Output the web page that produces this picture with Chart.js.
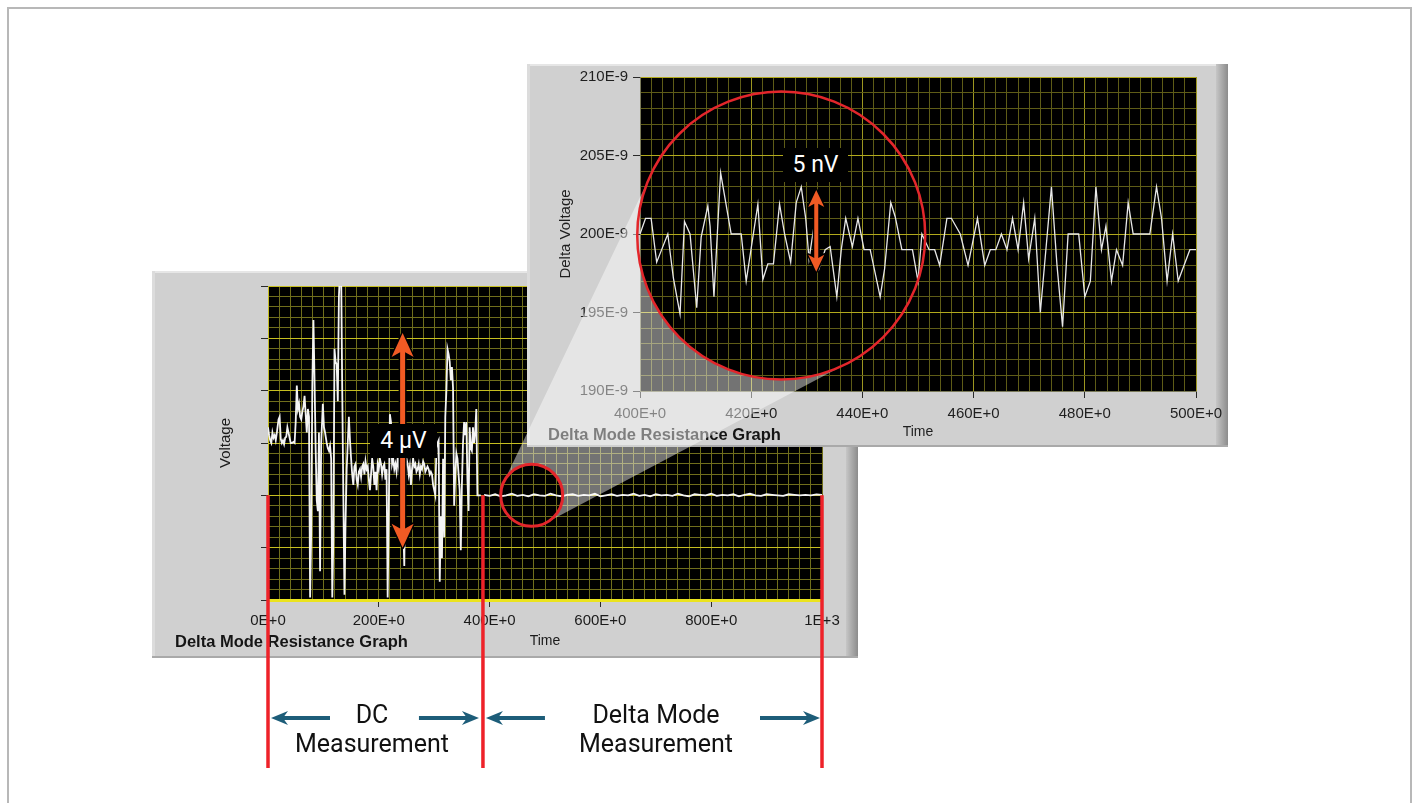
<!DOCTYPE html>
<html><head><meta charset="utf-8">
<script src="https://cdn.jsdelivr.net/npm/chart.js@4.4.1/dist/chart.umd.min.js"></script>
<style>
html,body{margin:0;padding:0;background:#fff;}
body{width:1412px;height:803px;position:relative;overflow:hidden;}
#frame{position:absolute;left:7px;top:7px;width:1401px;height:800px;border:2px solid #b8b8b8;border-bottom:none;}
canvas{position:absolute;left:0;top:0;}
.tag{position:absolute;background:#000;color:#fff;text-align:center;font-family:Roboto,sans-serif;font-size:23px;}
.lbl{position:absolute;color:#111;font-family:Roboto,sans-serif;font-size:25px;text-align:center;line-height:29px;white-space:nowrap;}
</style></head>
<body>
<div id="frame"></div>
<canvas id="main" width="1412" height="803"></canvas>
<canvas id="inset" width="1412" height="803"></canvas>
<div class="tag" style="left:370px;top:424px;width:67px;height:34px;line-height:34px;">4 µV</div>
<div class="tag" style="left:783px;top:148px;width:65px;height:34px;line-height:34px;">5 nV</div>
<div class="lbl" style="left:292px;top:700px;width:160px;">DC<br>Measurement</div>
<div class="lbl" style="left:570px;top:700px;width:172px;">Delta Mode<br>Measurement</div>
<script>
// ---------- data ----------
// Main graph, DC measurement phase (time, voltage in µV-like units; plot range 0..6)
const dcTime = [0,2,4,6,8,10,12,14,16,19,21,23,25,27,29,31,33,35,37,39,41,43,46,48,50,52,54,56,58,60,62,64,66,68,70,72,74,76,78,80,82,84,86,88,90,92,94,96,99,101,103,106,108,110,112,114,116,118,120,122,124,126,128,130,132,134,136,138,140,142,144,146,148,150,152,154,156,158,160,162,164,166,168,170,172,174,176,178,180,182,184,186,188,190,192,194,196,198,200,202,204,206,208,210,212,214,216,218,220,222,224,226,228,230,232,234,236,238,240,242,244,246,248,250,252,254,256,258,260,262,264,266,268,270,272,274,276,278,280,282,284,286,288,290,292,294,296,298,300,302,304,306,308,310,312,314,316,318,320,322,324,326,328,330,332,334,336,338,340,342,344,346,348,350,352,354,356,358,360,362,364,366,368,370,372,374,376,378,384];
const dcVoltage = [3.30,3.15,3.05,3.00,3.20,3.10,3.15,3.05,3.20,3.45,3.50,3.08,3.00,3.05,2.98,3.10,3.12,3.30,3.20,3.10,3.00,3.00,3.02,3.00,3.40,4.10,3.65,3.75,3.50,3.45,3.60,3.70,3.90,3.55,3.20,3.65,3.50,0.05,1.30,4.10,5.35,4.20,2.90,1.90,1.70,3.20,0.55,3.00,3.75,3.30,3.20,3.00,2.90,2.85,2.95,2.70,0.05,1.20,4.80,4.55,4.50,3.80,5.80,6.30,6.30,4.00,2.00,0.10,1.50,2.50,3.00,3.50,3.05,2.70,2.40,2.20,2.55,2.60,2.30,2.20,2.45,2.50,2.35,2.55,2.60,2.40,2.65,2.50,2.55,2.30,2.10,2.40,2.70,2.55,2.20,2.45,2.10,2.60,2.50,2.70,2.60,2.40,2.55,2.60,2.30,2.50,0.05,1.70,3.55,3.40,2.60,2.70,2.50,2.60,2.45,2.70,2.55,2.80,2.50,2.60,1.50,0.65,2.50,2.70,2.60,2.40,2.55,2.20,2.50,2.70,2.55,2.60,2.45,2.50,2.60,2.40,2.55,2.50,2.65,2.60,2.45,2.50,2.55,2.50,2.40,2.45,2.40,2.20,2.10,2.00,2.90,3.00,3.05,0.35,1.60,0.80,2.70,1.20,3.50,4.00,4.80,4.70,4.55,4.20,4.45,4.05,1.80,2.40,2.80,2.70,2.40,2.10,0.95,2.20,3.00,3.40,3.15,3.40,2.30,1.70,3.30,2.90,2.85,3.30,3.00,3.20,3.65,2.00,2.00];
// Main graph, delta mode phase
const deltaTime = [390,400,410,420,430,440,450,460,470,480,490,500,510,520,530,540,550,560,570,580,590,600,610,620,630,640,650,660,670,680,690,700,710,720,730,740,750,760,770,780,790,800,810,820,830,840,850,860,870,880,890,900,910,920,930,940,950,960,970,980,990,1000];
const deltaVoltage = [2.01,1.99,2.02,1.98,2.00,2.03,1.99,2.01,1.98,2.02,2.00,1.99,2.03,2.00,1.98,2.01,2.02,1.99,2.01,2.00,2.03,1.98,2.00,2.02,1.99,2.01,2.00,2.03,1.99,2.01,1.98,2.02,2.00,2.01,1.99,2.03,2.00,1.98,2.02,2.01,2.00,2.03,1.99,2.01,2.00,2.02,1.98,2.01,2.03,2.00,1.99,2.02,2.01,2.00,1.99,2.02,2.01,2.00,2.01,2.00,2.02,2.01];
// Inset (zoom 400..500), delta voltage in nV
const insetTime = [400,401,402,403,404,405,406,407.2,408,409,410.2,411,412.2,412.6,413.3,414.5,416.4,418.2,419.1,421.2,422.1,423,424,425.1,426,427.1,428.1,429,429.8,430.4,431.3,432.2,433.3,434.2,435.4,436.2,437,438.2,439.2,440.3,441.4,443.2,444,445.1,445.9,447.1,449,450,450.7,452,453,453.9,455.2,456,457.6,459,460.7,462,463,464,465,466,467,468,469,469.9,471,472,473,474,475,476,477,478.9,480,481,482,483,483.8,484.8,485.7,486.8,487.8,488.7,491.7,492.9,493.8,494.8,495.8,496.8,498.9,500];
const insetVoltage = [200.0,201.0,201.0,198.2,199.1,200.0,197.2,194.9,200.8,200.0,195.3,199.8,201.8,200.5,196.0,203.9,200.0,200.0,197.0,201.9,197.1,198.1,198.1,201.9,200.0,198.2,202.0,203.0,201.0,198.4,200.5,197.8,199.0,199.2,196.0,199.0,201.0,199.2,201.0,199.0,199.0,196.0,197.8,202.0,201.1,199.0,199.0,197.0,200.0,199.0,199.0,198.0,201.0,201.0,200.0,198.0,201.0,198.0,199.0,199.0,200.0,199.0,201.0,199.0,202.0,198.4,201.0,195.0,199.0,203.0,198.0,194.1,200.0,200.0,196.0,197.0,203.0,199.0,200.5,197.0,199.0,198.0,202.0,200.0,200.0,203.0,201.0,197.0,200.0,197.0,199.0,199.0];
// Tick labels
const mainXTickValues = [0,200,400,600,800,1000];
const mainXTickLabels = ['0E+0','200E+0','400E+0','600E+0','800E+0','1E+3'];
const insetXTickValues = [400,420,440,460,480,500];
const insetXTickLabels = ['400E+0','420E+0','440E+0','460E+0','480E+0','500E+0'];
const insetYTickValues = [190,195,200,205,210];
const insetYTickLabels = ['190E-9','195E-9','200E-9','205E-9','210E-9'];
// Annotation anchors (in data units)
const phaseBounds = [0,388,1000];
const zoomSource = {t:476, v:2.0};
const zoomTarget = {t:425.4, v:199.9};
const spanMain = {t:243, from:1.0, to:5.1};
const spanInset = {t:431.7, from:197.6, to:202.8};

// ---------- helpers ----------
Chart.defaults.font.family = '"Liberation Sans", Arial, sans-serif';
const near = (v, step) => Math.abs(v/step - Math.round(v/step)) < 1e-6;
const labelFor = (v, vals, labs) => { const i = vals.findIndex(x => Math.abs(x - v) < 1e-6); return i >= 0 ? labs[i] : ''; };

const panelPlugin = {
  id: 'panel',
  beforeDraw(chart, args, o) {
    const {ctx, chartArea: a} = chart;
    ctx.save();
    ctx.fillStyle = '#d0d0d0';
    ctx.fillRect(o.x, o.y, o.w, o.h);
    ctx.fillStyle = '#e6e6e6'; ctx.fillRect(o.x, o.y, o.w, 2);
    ctx.fillStyle = '#dcdcdc'; ctx.fillRect(o.x, o.y, 3, o.h);
    const g = ctx.createLinearGradient(o.x + o.w - 12, 0, o.x + o.w, 0);
    g.addColorStop(0, '#c6c6c6'); g.addColorStop(1, '#8c8c8c');
    ctx.fillStyle = g; ctx.fillRect(o.x + o.w - 12, o.y, 12, o.h);
    ctx.fillStyle = '#a9a9a9'; ctx.fillRect(o.x, o.y + o.h - 2, o.w, 2);
    ctx.fillStyle = '#000';
    ctx.fillRect(a.left, a.top, a.width, a.height);
    ctx.font = 'bold 16.5px "Liberation Sans", Arial, sans-serif';
    ctx.fillStyle = '#151515'; ctx.textBaseline = 'middle'; ctx.textAlign = 'left';
    ctx.fillText(o.label, o.lx, o.ly);
    ctx.restore();
  }
};

function gridOpts(majorStep, minorCol, majorCol) {
  return {
    color: c => (c.tick && near(c.tick.value, majorStep)) ? majorCol : minorCol,
    lineWidth: 1,
    tickLength: 7,
    tickColor: c => (c.tick && near(c.tick.value, majorStep)) ? '#2a2a2a' : 'rgba(0,0,0,0)',
    tickWidth: 1
  };
}

// ---------- main graph ----------
const mainChart = new Chart(document.getElementById('main'), {
  type: 'line',
  data: { datasets: [
    { data: dcTime.map((t, i) => ({x: t, y: dcVoltage[i]})), borderColor: '#f4f4f4', borderWidth: 1.8, pointRadius: 0, tension: 0 },
    { data: deltaTime.map((t, i) => ({x: t, y: deltaVoltage[i]})), borderColor: '#f4f4f4', borderWidth: 1.8, pointRadius: 0, tension: 0 }
  ]},
  options: {
    responsive: false, animation: false, events: [],
    layout: { padding: { left: 217, right: 590, top: 286, bottom: 145 } },
    plugins: { legend: { display: false }, tooltip: { enabled: false },
      panel: { x: 152, y: 271, w: 706, h: 387, label: 'Delta Mode Resistance Graph', lx: 175, ly: 642 } },
    scales: {
      x: { type: 'linear', min: 0, max: 1000,
        afterFit: s => { s.height = 58; },
        ticks: { stepSize: 20, autoSkip: false, maxRotation: 0, padding: 5, color: '#1a1a1a', font: { size: 15 },
          callback: v => labelFor(v, mainXTickValues, mainXTickLabels) },
        grid: gridOpts(200, '#706e1c', '#706e1c'),
        border: { display: true, color: '#ebe31e', width: 3 },
        title: { display: true, text: 'Time', color: '#1a1a1a', font: { size: 14 }, padding: { top: 0, bottom: 8 } } },
      y: { type: 'linear', min: 0, max: 6,
        afterFit: s => { s.width = 51; },
        ticks: { stepSize: 0.2, autoSkip: false, callback: () => '' },
        grid: gridOpts(1, '#706e1c', '#c6be20'),
        border: { display: true, color: '#c6be20', width: 1 },
        title: { display: true, text: 'Voltage', color: '#1a1a1a', font: { size: 15 }, padding: { top: 0, bottom: 0 } } }
    }
  },
  plugins: [panelPlugin]
});

// ---------- overlay drawing ----------
function doubleArrow(ctx, x, yTop, yBot, sw, hw, hl) {
  ctx.beginPath();
  ctx.moveTo(x, yTop);
  ctx.lineTo(x + hw, yTop + hl);
  ctx.lineTo(x + sw / 2, yTop + hl * 0.8);
  ctx.lineTo(x + sw / 2, yBot - hl * 0.8);
  ctx.lineTo(x + hw, yBot - hl);
  ctx.lineTo(x, yBot);
  ctx.lineTo(x - hw, yBot - hl);
  ctx.lineTo(x - sw / 2, yBot - hl * 0.8);
  ctx.lineTo(x - sw / 2, yTop + hl * 0.8);
  ctx.lineTo(x - hw, yTop + hl);
  ctx.closePath();
  ctx.lineJoin = 'round';
  ctx.strokeStyle = '#000'; ctx.lineWidth = 3; ctx.stroke();
  ctx.fillStyle = '#f15a24'; ctx.fill();
}
function hArrow(ctx, xTail, xTip, y) {
  const dir = Math.sign(xTip - xTail), hl = 17, hh = 7;
  ctx.strokeStyle = '#1d5d79'; ctx.fillStyle = '#1d5d79'; ctx.lineWidth = 4;
  ctx.beginPath(); ctx.moveTo(xTail, y); ctx.lineTo(xTip - dir * hl * 0.6, y); ctx.stroke();
  ctx.beginPath(); ctx.moveTo(xTip, y); ctx.lineTo(xTip - dir * hl, y - hh);
  ctx.lineTo(xTip - dir * hl * 0.7, y); ctx.lineTo(xTip - dir * hl, y + hh); ctx.closePath(); ctx.fill();
}

const overlayPlugin = {
  id: 'overlay',
  afterDraw(chart) {
    const ctx = chart.ctx;
    const mx = mainChart.scales.x, my = mainChart.scales.y;
    const ix = chart.scales.x, iy = chart.scales.y;
    const c1 = { x: mx.getPixelForValue(zoomSource.t), y: my.getPixelForValue(zoomSource.v), r: 31 };
    const c2 = { x: ix.getPixelForValue(zoomTarget.t), y: iy.getPixelForValue(zoomTarget.v), r: 144 };
    ctx.save();
    // zoom cone
    const dx = c2.x - c1.x, dy = c2.y - c1.y, d = Math.hypot(dx, dy);
    const th = Math.atan2(dy, dx), al = Math.acos((c1.r - c2.r) / d);
    const a1 = th + al, a2 = th - al;
    ctx.beginPath();
    ctx.moveTo(c1.x + c1.r * Math.cos(a1), c1.y + c1.r * Math.sin(a1));
    ctx.lineTo(c2.x + c2.r * Math.cos(a1), c2.y + c2.r * Math.sin(a1));
    ctx.arc(c2.x, c2.y, c2.r, a1, a2, false);
    ctx.lineTo(c1.x + c1.r * Math.cos(a2), c1.y + c1.r * Math.sin(a2));
    ctx.arc(c1.x, c1.y, c1.r, a2, a1, false);
    ctx.closePath();
    ctx.fillStyle = 'rgba(255,255,255,0.45)';
    ctx.fill();
    // circles
    ctx.strokeStyle = '#e3262b';
    ctx.lineWidth = 3; ctx.beginPath(); ctx.arc(c1.x, c1.y, c1.r, 0, Math.PI * 2); ctx.stroke();
    ctx.lineWidth = 2.5; ctx.beginPath(); ctx.arc(c2.x, c2.y, c2.r, 0, Math.PI * 2); ctx.stroke();
    // phase boundary lines
    ctx.strokeStyle = '#ee2229'; ctx.lineWidth = 3.5;
    const yb = my.getPixelForValue(2.0);
    const bx = phaseBounds.map(b => mx.getPixelForValue(b));
    bx.forEach(x => { ctx.beginPath(); ctx.moveTo(x, yb); ctx.lineTo(x, 768); ctx.stroke(); });
    // span arrows
    doubleArrow(ctx, mx.getPixelForValue(spanMain.t), my.getPixelForValue(spanMain.to), my.getPixelForValue(spanMain.from), 5, 11, 24);
    doubleArrow(ctx, ix.getPixelForValue(spanInset.t), iy.getPixelForValue(spanInset.to), iy.getPixelForValue(spanInset.from), 4, 8, 17);
    // measurement arrows
    hArrow(ctx, bx[0] + 62, bx[0] + 3, 718);
    hArrow(ctx, bx[1] - 64, bx[1] - 4, 718);
    hArrow(ctx, bx[1] + 62, bx[1] + 3, 718);
    hArrow(ctx, bx[2] - 62, bx[2] - 2, 718);
    ctx.restore();
  }
};

// ---------- inset graph ----------
new Chart(document.getElementById('inset'), {
  type: 'line',
  data: { datasets: [
    { data: insetTime.map((t, i) => ({x: t, y: insetVoltage[i]})), borderColor: '#e8e8e8', borderWidth: 1.3, pointRadius: 0, tension: 0 }
  ]},
  options: {
    responsive: false, animation: false, events: [],
    layout: { padding: { left: 557, right: 216, top: 77, bottom: 356 } },
    plugins: { legend: { display: false }, tooltip: { enabled: false },
      panel: { x: 527, y: 64, w: 701, h: 383, label: 'Delta Mode Resistance Graph', lx: 548, ly: 435 } },
    scales: {
      x: { type: 'linear', min: 400, max: 500,
        afterFit: s => { s.height = 56; },
        ticks: { stepSize: 2, autoSkip: false, maxRotation: 0, padding: 7, color: '#1f1f1f', font: { size: 15 },
          callback: v => labelFor(v, insetXTickValues, insetXTickLabels) },
        grid: gridOpts(20, '#5e5c17', '#9c9620'),
        border: { display: true, color: '#7a7a5a', width: 1 },
        title: { display: true, text: 'Time', color: '#1f1f1f', font: { size: 14 }, padding: { top: 0, bottom: 6 } } },
      y: { type: 'linear', min: 190, max: 210,
        afterFit: s => { s.width = 83; },
        ticks: { stepSize: 1, autoSkip: false, padding: 5, color: '#1f1f1f', font: { size: 15 },
          callback: v => labelFor(v, insetYTickValues, insetYTickLabels) },
        grid: gridOpts(5, '#5e5c17', '#b1a91c'),
        border: { display: true, color: '#7a7a5a', width: 1 },
        title: { display: true, text: 'Delta Voltage', color: '#1f1f1f', font: { size: 15 }, padding: { top: 0, bottom: 0 } } }
    }
  },
  plugins: [panelPlugin, overlayPlugin]
});
</script>
</body></html>
